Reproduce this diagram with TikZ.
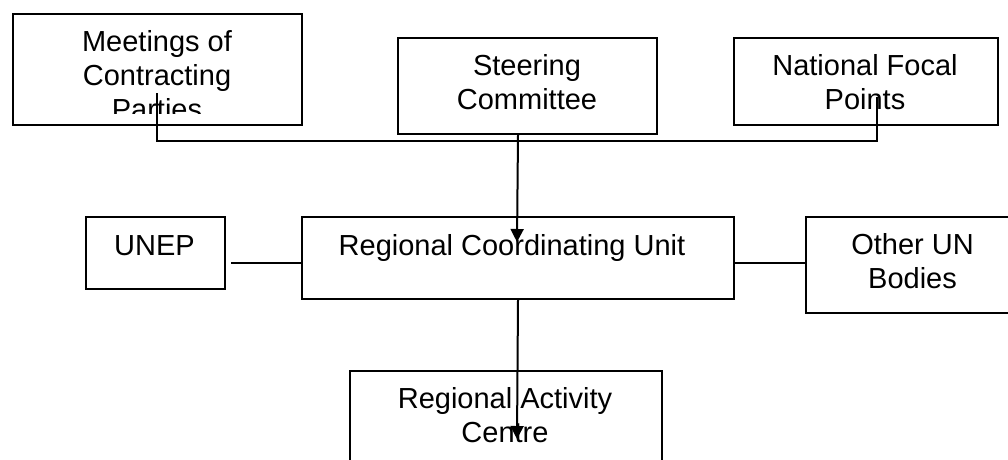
\documentclass[tikz,border=0pt]{standalone}
\usepackage{fontspec}
\setmainfont{Liberation Sans}
\usetikzlibrary{arrows.meta}
\begin{document}
\begin{tikzpicture}[x=1pt,y=-1pt,
  boxstyle/.style={draw=black,line width=2pt,rectangle,inner sep=0pt,anchor=north west},
  txt/.style={align=center,anchor=base,inner sep=0pt,font=\fontsize{29}{34}\selectfont},
  conn/.style={draw=black,line width=2pt},
  arr/.style={conn,-{Triangle[length=13pt,width=13pt]}}]
\useasboundingbox (0,0) rectangle (1008,459);
\clip (0,0) rectangle (1008,459);
% boxes
\node[boxstyle,minimum width=289pt,minimum height=111pt] (meet) at (12,13) {};
\node[boxstyle,minimum width=259pt,minimum height=96pt] (steer) at (397,37) {};
\node[boxstyle,minimum width=264pt,minimum height=87pt] (nfp) at (733,37) {};
\node[boxstyle,minimum width=139pt,minimum height=72pt] (unep) at (85,216) {};
\node[boxstyle,minimum width=432pt,minimum height=82pt] (rcu) at (301,216) {};
\node[boxstyle,minimum width=215pt,minimum height=96pt] (other) at (805,216) {};
\node[boxstyle,minimum width=312pt,minimum height=110pt] (rac) at (349,370) {};
% texts (anchor base = last line's baseline)
\begin{scope}
\clip (12,13) rectangle (301,113);
\node[txt] (meett) at (157,119) {Meetings of\\Contracting\\Parties};
\end{scope}
\node[txt] (steert) at (527,109) {Steering\\Committee};
\node[txt] (nfpt) at (865,109) {National Focal\\Points};
\node[txt] (unept) at (154.5,255) {UNEP};
\node[txt] (rcut) at (512,255) {Regional Coordinating Unit};
\node[txt] (othert) at (912.5,288) {Other UN\\Bodies};
\node[txt] (ract) at (505,442) {Regional Activity\\Centre};
% connectors
\coordinate (mstart) at (157,93);
\coordinate (nend) at (877,97);
\coordinate (bus) at (517,141);
\coordinate (tip1) at (517,242);
\coordinate (tip2) at (517,439);
\coordinate (side) at (0,263);
\draw[conn] (mstart) |- (bus) -| (nend);
\draw[arr] (rcu.north |- steer.south) -- (tip1);
\draw[arr] (rcu.south) -- (tip2);
\draw[conn] ([xshift=5pt]unep.east |- side) -- (rcu.west |- side);
\draw[conn] (rcu.east |- side) -- (other.west |- side);
\end{tikzpicture}
\end{document}
